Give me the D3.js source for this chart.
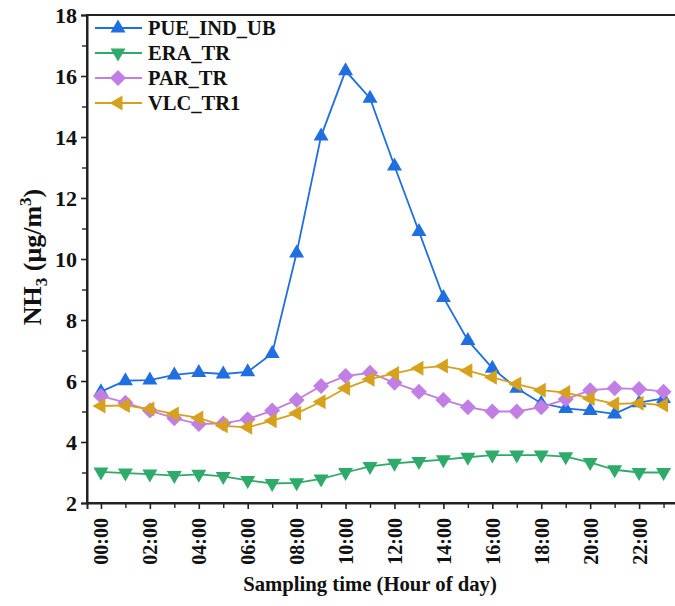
<!DOCTYPE html>
<html><head><meta charset="utf-8">
<script src="https://cdn.jsdelivr.net/npm/d3@7"></script>
<style>body{margin:0;background:#fff}svg{display:block}</style>
</head><body>
<svg id="c" width="675" height="606"></svg>
<script>
const hours = d3.range(0, 24);
const hourLabels = ["00:00","02:00","04:00","06:00","08:00","10:00","12:00","14:00","16:00","18:00","20:00","22:00"];
const yTicks = [2,4,6,8,10,12,14,16,18];
const seriesNames = ["PUE_IND_UB","ERA_TR","PAR_TR","VLC_TR1"];
const pue = [5.65,6.01,6.03,6.2,6.28,6.23,6.3,6.9,10.2,14.03,16.17,15.27,13.05,10.9,8.74,7.33,6.42,5.76,5.27,5.1,5.03,4.92,5.29,5.43];
const era = [3.02,2.98,2.95,2.9,2.94,2.87,2.74,2.64,2.66,2.79,3.0,3.2,3.3,3.36,3.42,3.5,3.57,3.57,3.57,3.52,3.33,3.09,3.0,3.0];
const par = [5.51,5.29,5.03,4.78,4.59,4.61,4.75,5.03,5.38,5.84,6.16,6.27,5.94,5.65,5.38,5.14,5.0,5.0,5.14,5.4,5.7,5.76,5.74,5.65];
const vlc = [5.18,5.2,5.08,4.92,4.79,4.53,4.48,4.7,4.94,5.32,5.76,6.06,6.25,6.42,6.49,6.34,6.12,5.9,5.7,5.62,5.43,5.25,5.27,5.21];
const colors = ["#1f6fe0","#2eab6a","#c27fe3","#d6a11c"];
const shapes = ["up","down","diamond","left"];
const data = [pue, era, par, vlc];

const svg = d3.select("#c");
const L = 87, R = 677, T = 15, B = 503;
const x = d3.scaleLinear().domain([-0.57, 23.55]).range([L, R]);
const y = d3.scaleLinear().domain([2, 18]).range([B, T]);
const font = "'Liberation Serif','Times New Roman',serif";

function marker(shape){
  switch(shape){
    case "up": return "M0,-8.5L7.5,4.5L-7.5,4.5Z";
    case "down": return "M0,8.5L7.5,-4.5L-7.5,-4.5Z";
    case "left": return "M-8.5,0L4.5,-7.5L4.5,7.5Z";
    case "diamond": return "M0,-8L8,0L0,8L-8,0Z";
  }
}

// frame
svg.append("rect").attr("x", L).attr("y", T).attr("width", R - L).attr("height", B - T)
  .attr("fill","none").attr("stroke","#222").attr("stroke-width",2);

// y axis
const yAxis = d3.axisLeft(y).tickValues(yTicks).tickSize(6).tickPadding(4).tickFormat(d3.format("d"));
const gy = svg.append("g").attr("transform",`translate(${L},0)`).call(yAxis);
gy.select(".domain").attr("stroke","#222").attr("stroke-width",2);
gy.selectAll(".tick line").attr("stroke","#222").attr("stroke-width",1.6);
gy.selectAll(".tick text").attr("font-family",font).attr("font-weight","bold").attr("font-size",22).attr("fill","#111");
const gym = svg.append("g").attr("transform",`translate(${L},0)`)
  .call(d3.axisLeft(y).tickValues(d3.range(3,18,2)).tickSize(5).tickFormat(""));
gym.select(".domain").remove();
gym.selectAll(".tick line").attr("stroke","#222").attr("stroke-width",1.4);

// x axis
const xAxis = d3.axisBottom(x).tickValues(d3.range(0,24,2)).tickSize(6).tickFormat((d,i)=>hourLabels[i]);
const gx = svg.append("g").attr("transform",`translate(0,${B})`).call(xAxis);
gx.select(".domain").attr("stroke","#222").attr("stroke-width",2);
gx.selectAll(".tick line").attr("stroke","#222").attr("stroke-width",1.6);
gx.selectAll(".tick text").attr("font-family",font).attr("font-weight","bold").attr("font-size",20).attr("fill","#111")
  .attr("transform","rotate(-90)").attr("text-anchor","end").attr("dy","0.35em").attr("x",-15).attr("y",0);
const gxm = svg.append("g").attr("transform",`translate(0,${B})`)
  .call(d3.axisBottom(x).tickValues(d3.range(1,24,2)).tickSize(5).tickFormat(""));
gxm.select(".domain").remove();
gxm.selectAll(".tick line").attr("stroke","#222").attr("stroke-width",1.4);

// series
const line = d3.line().x((d,i)=>x(hours[i])).y(d=>y(d));
data.forEach((vals, k) => {
  const g = svg.append("g");
  g.append("path").datum(vals).attr("d", line).attr("fill","none").attr("stroke",colors[k]).attr("stroke-width",1.8);
  g.selectAll("path.m").data(vals).enter().append("path").attr("class","m")
    .attr("transform",(d,i)=>`translate(${x(hours[i])},${y(d)})`)
    .attr("d", marker(shapes[k])).attr("fill",colors[k]);
});

// legend
const lg = svg.append("g");
seriesNames.forEach((n,k)=>{
  const yy = 28 + k*25;
  lg.append("line").attr("x1",95).attr("x2",142).attr("y1",yy).attr("y2",yy).attr("stroke",colors[k]).attr("stroke-width",1.8);
  lg.append("path").attr("transform",`translate(118,${yy})`).attr("d",marker(shapes[k])).attr("fill",colors[k]);
  lg.append("text").attr("x",148).attr("y",yy).attr("dy","0.35em").text(n)
    .attr("font-family",font).attr("font-weight","bold").attr("font-size",20.5).attr("fill","#111");
});

// axis titles
const yt = svg.append("text").attr("transform","translate(41,257) rotate(-90)").attr("text-anchor","middle")
  .attr("font-family",font).attr("font-weight","bold").attr("font-size",26).attr("fill","#111");
yt.append("tspan").text("NH");
yt.append("tspan").text("3").attr("font-size",17).attr("dy",6);
yt.append("tspan").text(" (μg/m").attr("dy",-6);
yt.append("tspan").text("3").attr("font-size",17).attr("dy",-10);
yt.append("tspan").text(")").attr("dy",10);

svg.append("text").attr("x",370).attr("y",591).attr("text-anchor","middle")
  .attr("font-family",font).attr("font-weight","bold").attr("font-size",20.7).attr("fill","#111")
  .text("Sampling time (Hour of day)");
</script>
</body></html>
